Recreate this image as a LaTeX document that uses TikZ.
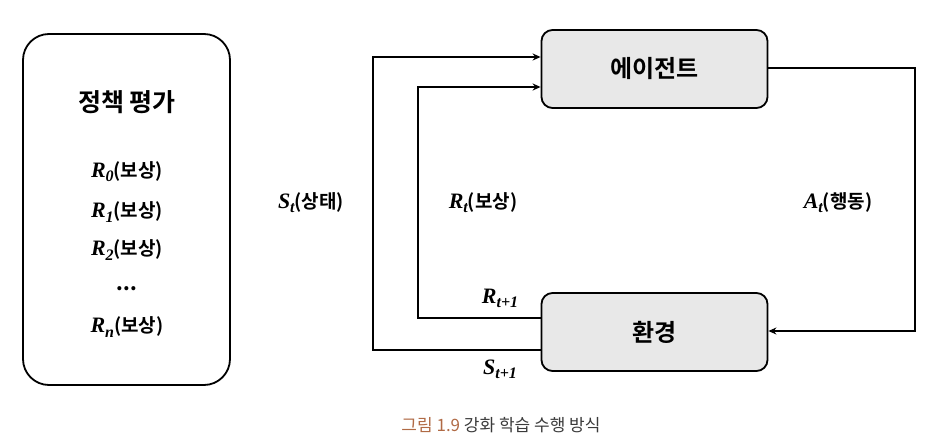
\documentclass[tikz,border=0pt]{standalone}
\usepackage{fontspec}
\usetikzlibrary{arrows.meta}
\newfontfamily\kr{Noto Sans CJK KR}
\newfontfamily\krb{Noto Sans CJK KR Bold}
\newfontfamily\mbi{Liberation Serif Bold Italic}
\definecolor{boxgray}{HTML}{E8E8E8}
\definecolor{capbrown}{HTML}{B06A45}
\definecolor{capgray}{HTML}{3A3A3A}
\newcommand{\vr}[2]{{\fontsize{22}{24}\selectfont\mbi #1}\raisebox{-0.4ex}{\fontsize{16}{17}\selectfont\mbi #2}}
\begin{document}
\begin{tikzpicture}[x=1pt,y=-1pt,
  conn/.style={draw=black,line width=1.4pt},
  arr/.style={conn,-{Stealth[length=8pt,width=7pt]}},
  kbox/.style={draw=black,line width=1.8pt,rounded corners=11pt,fill=boxgray,minimum width=226pt,minimum height=78pt,font=\krb\fontsize{24}{27}\selectfont},
  lbl/.style={font=\krb\fontsize{19}{22}\selectfont,inner sep=0pt}]
\useasboundingbox (0,0) rectangle (931,446);
% left box
\draw[line width=1.8pt,rounded corners=26pt] (23,34) rectangle (230,385);
\node[font=\krb\fontsize{25}{28}\selectfont] (title) at (127,102) {정책 평가};
\node[lbl] (r0) at (127,172) {\vr{R}{0}(보상)};
\node[lbl] (r1) at (127,212) {\vr{R}{1}(보상)};
\node[lbl] (r2) at (127,250) {\vr{R}{2}(보상)};
\node[lbl] (dots) at (127,289) {\textbf{...}};
\node[lbl] (rn) at (127,327) {\vr{R}{n}(보상)};
% boxes
\node[kbox] (agent) at (654.5,69) {에이전트};
\node[kbox] (env) at (654.5,332) {환경};
% connectors
\draw[arr] (env.west |- {(0,350)}) -- (373,350) -- (373,57) -- (agent.west |- {(0,57)});
\draw[arr] (env.west |- {(0,318)}) -- (418,318) -- (418,87) -- (agent.west |- {(0,87)});
\draw[arr] (agent.east |- {(0,68)}) -- (915,68) -- (915,331) -- (env.east |- {(0,331)});
% labels
\node[lbl] (st) at (311,203) {\vr{S}{t}(상태)};
\node[lbl] (rt) at (483,203) {\vr{R}{t}(보상)};
\node[lbl] (at) at (838,203) {\vr{A}{t}(행동)};
\node[lbl] (rt1) at (500,298) {\vr{R}{t+1}};
\node[lbl] (st1) at (500,369) {\vr{S}{t+1}};
% caption
\node[font=\kr\fontsize{17}{20}\selectfont,inner sep=0pt] (cap) at (501,425) {\textcolor{capbrown}{그림 1.9} \textcolor{capgray}{강화 학습 수행 방식}};
\end{tikzpicture}
\end{document}
